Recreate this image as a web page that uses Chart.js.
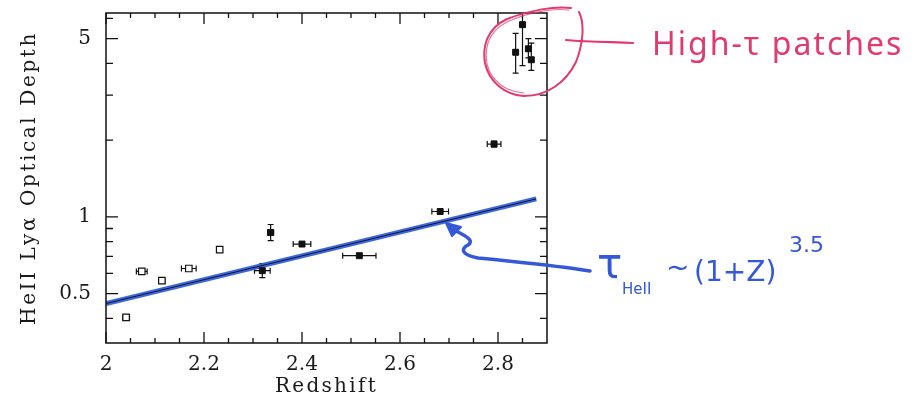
<!DOCTYPE html>
<html><head><meta charset="utf-8">
<script src="https://cdn.jsdelivr.net/npm/chart.js@4"></script>
<style>
html,body{margin:0;padding:0;background:#fff;}
#wrap{position:relative;width:919px;height:401px;overflow:hidden;background:#fff}
#c{position:absolute;left:0;top:0}
#ov{position:absolute;left:0;top:0;pointer-events:none}
</style></head><body>
<div id="wrap">
<canvas id="c" width="919" height="401"></canvas>
<svg id="ov" width="919" height="401" xmlns="http://www.w3.org/2000/svg">
  <g fill="none" stroke="#e23a6e" stroke-width="2" stroke-linecap="round" stroke-linejoin="round">
    <path d="M571 8 C 555 6, 530 10, 507 19 C 488 28, 482 45, 485 63 C 489 82, 505 95, 524 96 C 548 96, 566 82, 576 62 C 583 44, 585 24, 579 12"/>
    <path d="M569 10 C 553 8, 530 12, 509 21 C 490 30, 484 46, 487 64 C 491 81, 506 92, 524 93" stroke-width="1.2" opacity="0.7"/>
    <path d="M566 40 C 590 42, 612 42, 633 43" stroke-width="2.2"/>
  </g>
  <text x="652" y="55" font-family="Noto Sans" font-size="32" fill="#e23a6e" letter-spacing="2">High-τ patches</text>
  <g fill="none" stroke="#3558d8" stroke-width="3.5" stroke-linecap="round" stroke-linejoin="round">
    <path d="M590 271 C 560 266, 520 262, 478 258 C 462 255, 460 249, 468 245 C 474 241, 468 237, 456 231"/>
  </g>
  <path d="M446 223 L 461 227 L 452 236 Z" fill="#3558d8" stroke="#3558d8" stroke-width="2" stroke-linejoin="round"/>
  <g fill="#3558d8" font-family="DejaVu Sans">
    <text x="597" y="278" font-size="42">τ</text>
    <text x="622" y="294" font-size="15">HeII</text>
    <text x="666" y="277" font-size="28">~</text>
    <text x="694" y="281" font-size="28">(1+Z)</text>
    <text x="789" y="252" font-size="22">3.5</text>
  </g>
</svg>
</div>
<script>
// ---- data ----
const fitZ   = [2.0, 2.878];
const fitTau = [0.457, 1.176];

const openZ     = [2.041, 2.073, 2.114, 2.169, 2.232];
const openTau   = [0.403, 0.611, 0.562, 0.627, 0.743];
const openZErr  = [0.007, 0.011, 0.006, 0.015, 0.005];
const openTauLo = [0.398, 0.603, 0.555, 0.619, 0.735];
const openTauHi = [0.408, 0.619, 0.569, 0.635, 0.751];

const fillZ     = [2.319, 2.336, 2.400, 2.517, 2.682, 2.792, 2.836, 2.850, 2.862, 2.868];
const fillTau   = [0.615, 0.868, 0.782, 0.704, 1.049, 1.928, 4.42, 5.67, 4.56, 4.13];
const fillZErr  = [0.016, 0.006, 0.018, 0.034, 0.017, 0.014, 0.004, 0.003, 0.004, 0.004];
const fillTauLo = [0.578, 0.807, 0.770, 0.690, 1.040, 1.880, 3.66, 3.92, 4.20, 3.75];
const fillTauHi = [0.655, 0.933, 0.795, 0.720, 1.060, 1.980, 5.24, 6.30, 5.00, 4.80];

const xMajor = [2, 2.2, 2.4, 2.6, 2.8];
const xMinor = [2.05, 2.1, 2.15, 2.25, 2.3, 2.35, 2.45, 2.5, 2.55, 2.65, 2.7, 2.75, 2.85];
const yMajor = [0.5, 1, 5];
const yMinor = [0.4, 0.6, 0.7, 0.8, 0.9, 2, 3, 4, 6];
const xTickLabels = ['2', '2.2', '2.4', '2.6', '2.8'];
const yTickLabels = ['0.5', '1', '5'];
const Y_MIN = 0.32, Y_MAX = 6.3;

const SERIF = "'DejaVu Serif', 'Liberation Serif', serif";

function spacedTitle(s, spacing) {
  if (s._spacedTitle) return;
  s._spacedTitle = true;
  const orig = s.drawTitle;
  s.drawTitle = function () {
    const ctx = this.ctx;
    ctx.save();
    ctx.letterSpacing = spacing;
    orig.apply(this, arguments);
    ctx.restore();
  };
}

const errorBars = {
  id: 'errorBars',
  beforeDatasetsDraw(chart) {
    const {ctx, chartArea: a, scales: {x, y}} = chart;
    const sets = [
      [openZ, openTau, openZErr, openTauLo, openTauHi],
      [fillZ, fillTau, fillZErr, fillTauLo, fillTauHi]
    ];
    ctx.save();
    ctx.beginPath(); ctx.rect(a.left, a.top, a.right - a.left, a.bottom - a.top); ctx.clip();
    ctx.strokeStyle = '#111'; ctx.lineWidth = 1.2;
    const cap = 3;
    sets.forEach(([zs, ts, ze, lo, hi]) => {
      zs.forEach((z, i) => {
        const px = x.getPixelForValue(z), py = y.getPixelForValue(ts[i]);
        const x0 = x.getPixelForValue(z - ze[i]), x1 = x.getPixelForValue(z + ze[i]);
        const y0 = y.getPixelForValue(lo[i]), y1 = y.getPixelForValue(hi[i]);
        ctx.beginPath();
        ctx.moveTo(x0, py); ctx.lineTo(x1, py);
        ctx.moveTo(x0, py - cap); ctx.lineTo(x0, py + cap);
        ctx.moveTo(x1, py - cap); ctx.lineTo(x1, py + cap);
        if (Math.abs(y0 - y1) > 5) {
          ctx.moveTo(px, y0); ctx.lineTo(px, y1);
          ctx.moveTo(px - cap, y0); ctx.lineTo(px + cap, y0);
          ctx.moveTo(px - cap, y1); ctx.lineTo(px + cap, y1);
        }
        ctx.stroke();
      });
    });
    ctx.restore();
  }
};

const frame = {
  id: 'frame',
  afterDraw(chart) {
    const {ctx, chartArea: a, scales: {x, y}} = chart;
    ctx.save();
    ctx.strokeStyle = '#111'; ctx.lineWidth = 1.5;
    ctx.strokeRect(a.left, a.top, a.right - a.left, a.bottom - a.top);
    ctx.lineWidth = 1.3;
    const xt = (vals, len) => vals.forEach(v => {
      const p = x.getPixelForValue(v);
      ctx.beginPath();
      ctx.moveTo(p, a.bottom); ctx.lineTo(p, a.bottom - len);
      ctx.moveTo(p, a.top); ctx.lineTo(p, a.top + len);
      ctx.stroke();
    });
    const yt = (vals, len) => vals.forEach(v => {
      const p = y.getPixelForValue(v);
      ctx.beginPath();
      ctx.moveTo(a.left, p); ctx.lineTo(a.left + len, p);
      ctx.moveTo(a.right, p); ctx.lineTo(a.right - len, p);
      ctx.stroke();
    });
    xt(xMajor, 11); xt(xMinor, 5);
    yt(yMajor, 12); yt(yMinor, 7);
    ctx.restore();
  }
};

new Chart(document.getElementById('c'), {
  type: 'scatter',
  data: {
    datasets: [
      { label: 'fit (highlight)', data: fitZ.map((z, i) => ({x: z, y: fitTau[i]})), showLine: true,
        borderColor: 'rgba(48,95,228,0.95)', borderWidth: 5, pointRadius: 0, order: 4 },
      { label: 'fit', data: fitZ.map((z, i) => ({x: z, y: fitTau[i]})), showLine: true,
        borderColor: '#151515', borderWidth: 1, pointRadius: 0, order: 3 },
      { label: 'open', data: openZ.map((z, i) => ({x: z, y: openTau[i]})),
        pointStyle: 'rect', pointRadius: 4.6, backgroundColor: '#fff', borderColor: '#111', borderWidth: 1.2, order: 2 },
      { label: 'filled', data: fillZ.map((z, i) => ({x: z, y: fillTau[i]})),
        pointStyle: 'rect', pointRadius: 4.2, backgroundColor: '#111', borderColor: '#111', borderWidth: 1, order: 1 }
    ]
  },
  options: {
    responsive: false, animation: false, devicePixelRatio: 1,
    layout: { padding: { left: 0, right: 372, top: 13, bottom: 0 } },
    plugins: { legend: { display: false }, tooltip: { enabled: false } },
    scales: {
      x: {
        type: 'linear', min: 2, max: 2.9,
        afterFit(s) { s.height = 58; s.paddingLeft = 0; s.paddingRight = 0; spacedTitle(s, '2.3px'); },
        afterBuildTicks(s) { s.ticks = xMajor.map(v => ({value: v})); },
        grid: { display: false, drawTicks: false }, border: { display: false },
        ticks: { padding: 10, color: '#1a1a1a', font: { family: SERIF, size: 20 }, maxRotation: 0,
          callback: (v) => xTickLabels[xMajor.findIndex(m => Math.abs(m - v) < 1e-6)] ?? '' },
        title: { display: true, text: 'Redshift', color: '#1a1a1a', font: { family: SERIF, size: 20 },
          padding: { top: 0, bottom: 2 } }
      },
      y: {
        type: 'logarithmic', min: Y_MIN, max: Y_MAX, bounds: 'data',
        afterFit(s) { s.width = 106; s.paddingTop = 0; s.paddingBottom = 0; spacedTitle(s, '2.6px'); },
        afterBuildTicks(s) { s.ticks = yMajor.map(v => ({value: v})); s.min = Y_MIN; s.max = Y_MAX; },
        grid: { display: false, drawTicks: false }, border: { display: false },
        ticks: { padding: 15, color: '#1a1a1a', font: { family: SERIF, size: 20 },
          callback: (v) => yTickLabels[yMajor.findIndex(m => Math.abs(m - v) < 1e-6)] ?? '' },
        title: { display: true, text: 'HeII Lyα Optical Depth', color: '#1a1a1a', font: { family: SERIF, size: 20 },
          padding: { top: 18, bottom: 0 } }
      }
    }
  },
  plugins: [errorBars, frame]
});
</script>
</body></html>
